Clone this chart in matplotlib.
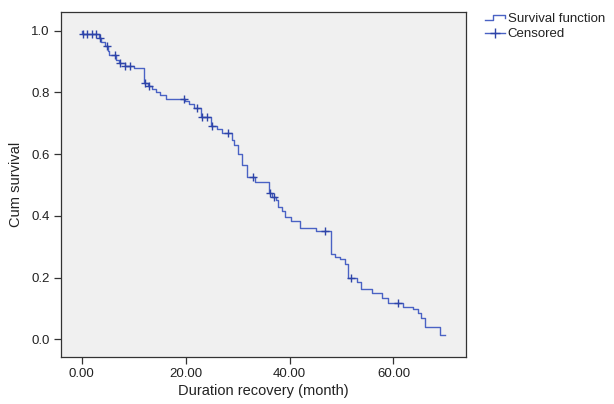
import matplotlib
matplotlib.use("Agg")
import matplotlib.pyplot as plt
import numpy as np
from matplotlib.legend_handler import HandlerBase
from matplotlib.lines import Line2D

plt.rcParams['font.family'] = ['Liberation Sans', 'DejaVu Sans']

# Kaplan-Meier estimate: event time -> survival after the step
event_t = [0.0, 0.1, 3.3, 3.7, 4.5, 5.0, 5.3, 6.6, 7.2, 8.3, 10.0, 11.9, 12.8, 13.5,
           14.3, 15.1, 16.3, 19.8, 20.6, 21.6, 22.9, 24.9, 26.0, 27.0, 28.9, 29.3,
           30.0, 30.8, 31.8, 33.3, 36.0, 36.6, 37.3, 37.8, 38.5, 39.2, 40.2, 42.0,
           45.0, 48.0, 48.8, 49.7, 50.6, 51.3, 52.9, 53.8, 55.8, 57.8, 59.0, 61.8,
           63.7, 64.7, 65.3, 66.0, 68.9, 70.0]
event_s = [1.0, 0.99, 0.975, 0.962, 0.95, 0.935, 0.92, 0.905, 0.895, 0.887, 0.88, 0.83,
           0.822, 0.812, 0.80, 0.79, 0.78, 0.772, 0.764, 0.75, 0.72, 0.69, 0.68, 0.667,
           0.645, 0.63, 0.60, 0.565, 0.525, 0.51, 0.475, 0.462, 0.45, 0.43, 0.415,
           0.395, 0.385, 0.36, 0.35, 0.277, 0.268, 0.26, 0.245, 0.20, 0.186, 0.162,
           0.15, 0.134, 0.118, 0.106, 0.10, 0.085, 0.07, 0.041, 0.014, 0.014]

# censored observations (time only, y taken from the curve)
censor_t = [0.3, 1.0, 1.9, 2.8, 3.5, 4.8, 6.4, 7.4, 8.4, 9.3, 12.1, 12.9, 19.6,
            22.2, 23.1, 24.1, 25.1, 28.2, 32.9, 36.2, 37.0, 46.8, 51.8, 60.9]

xticks = [0, 20, 40, 60]
yticks = [0.0, 0.2, 0.4, 0.6, 0.8, 1.0]

line_col = '#4a62c4'
mark_col = '#2e44a8'
text_col = '#222222'


def surv_at(t):
    idx = np.searchsorted(event_t, t, side='right') - 1
    return np.array(event_s)[idx]


class StepHandler(HandlerBase):
    def create_artists(self, legend, orig_handle, xdescent, ydescent,
                       width, height, fontsize, trans):
        w, h = width, height
        xs = [-xdescent, -xdescent + 0.4 * w, -xdescent + 0.4 * w,
              -xdescent + w, -xdescent + w]
        ys = [-ydescent + 0.15 * h, -ydescent + 0.15 * h, -ydescent + 0.75 * h,
              -ydescent + 0.75 * h, -ydescent + 0.45 * h]
        ln = Line2D(xs, ys, color=line_col, lw=1.0, transform=trans)
        return [ln]


fig = plt.figure(figsize=(6.14, 4.04), dpi=100)
ax = fig.add_axes([0.0993, 0.117, 0.66, 0.853])
ax.set_facecolor('#f0f0f0')

ax.step(event_t, event_s, where='post', color=line_col, lw=1.0, zorder=3)
ax.plot(censor_t, surv_at(np.array(censor_t)), linestyle='none', marker='+',
        markersize=5.5, markeredgewidth=1.0, color=mark_col, zorder=4)

ax.set_xlim(-4, 74)
ax.set_ylim(-0.056, 1.06)
ax.set_xticks(xticks)
ax.set_xticklabels(['%.2f' % v for v in xticks], fontsize=9.5, color=text_col)
ax.set_yticks(yticks)
ax.set_yticklabels(['%.1f' % v for v in yticks], fontsize=9.5, color=text_col)
ax.tick_params(direction='out', length=5, width=0.9, color='#333333', pad=3)
for sp in ax.spines.values():
    sp.set_color('#333333')
    sp.set_linewidth(0.9)

ax.set_xlabel('Duration recovery (month)', fontsize=10.5, labelpad=3, color=text_col)
ax.set_ylabel('Cum survival', fontsize=10.5, labelpad=6, color=text_col)

h_surv = Line2D([], [], color=line_col)
h_cens = Line2D([], [], color=line_col, marker='+', markersize=7,
                markeredgecolor=mark_col, lw=1.0)
leg = fig.legend([h_surv, h_cens], ['Survival function', 'Censored'],
                 handler_map={h_surv: StepHandler()},
                 loc='upper left', bbox_to_anchor=(0.782, 0.982), frameon=False,
                 fontsize=9.5, handlelength=1.5, handletextpad=0.2,
                 labelspacing=0.25, borderaxespad=0)
for t in leg.get_texts():
    t.set_color(text_col)

fig.savefig('out.png', dpi=100)
